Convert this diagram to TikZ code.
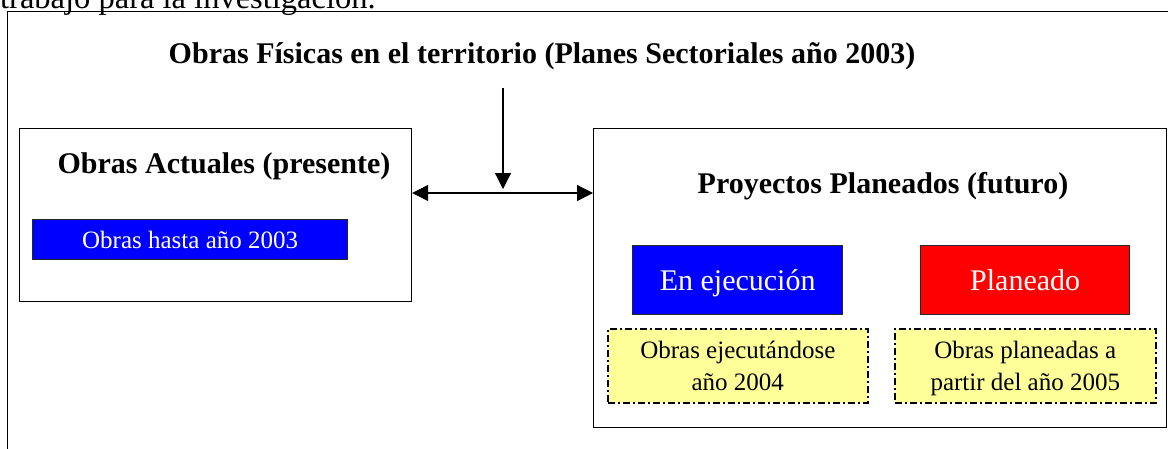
\documentclass[tikz,border=0pt]{standalone}
\usepackage{fontspec}
\setmainfont{Liberation Serif}
\usetikzlibrary{arrows.meta,calc}
\definecolor{lightyel}{RGB}{255,255,153}
\definecolor{pureblue}{RGB}{0,0,255}
\definecolor{purered}{RGB}{255,0,0}
\begin{document}
\begin{tikzpicture}[x=1pt,y=-1pt,
  boxframe/.style={draw=black, line width=1.2pt, anchor=north west, inner sep=0pt},
  titletext/.style={font=\fontsize{30}{36}\selectfont\bfseries, anchor=base, inner sep=0pt},
  colbox/.style={draw=black!85, line width=1.3pt, anchor=north west, inner sep=0pt, text=white, text depth=0pt},
  notebox/.style={draw=black, fill=lightyel, line width=1.6pt, dash pattern=on 7pt off 3pt on 2pt off 3pt,
     anchor=north west, inner sep=0pt, align=center, text depth=0pt,
     font=\fontsize{25}{32}\selectfont},
  arr/.style={line width=1.2pt, -{Triangle[length=16pt,width=16pt]}},
  arrboth/.style={line width=1.2pt, {Triangle[length=16pt,width=16pt]}-{Triangle[length=16pt,width=16pt]}}
]
\useasboundingbox (0,0) rectangle (1168,448);
% outer frame
\node[boxframe, minimum width=1175pt, minimum height=460pt] (outer) at (7,11) {};
% text above the frame (cropped at the top, as in the reference)
\node[font=\fontsize{32.5}{38}\selectfont, anchor=base west, inner sep=0pt] (intro) at (0,8) {trabajo para la investigación.};
% main title
\node[titletext] (title) at (542,63) {Obras Físicas en el territorio (Planes Sectoriales año 2003)};
% left box
\node[boxframe, minimum width=392pt, minimum height=173pt] (leftbox) at (19,128) {};
\node[titletext] (lefttitle) at (224,173) {Obras Actuales (presente)};
\node[colbox, fill=pureblue, minimum width=315pt, minimum height=40pt, font=\fontsize{25}{30}\selectfont] (hasta) at (32,219) {Obras hasta año 2003};
% right box
\node[boxframe, minimum width=573pt, minimum height=299pt] (rightbox) at (593,128) {};
\node[titletext] (righttitle) at (883,193) {Proyectos Planeados (futuro)};
\node[colbox, fill=pureblue, minimum width=210pt, minimum height=69pt, font=\fontsize{30}{36}\selectfont] (ejec) at (632,245) {En ejecución};
\node[colbox, fill=purered, minimum width=209pt, minimum height=69pt, font=\fontsize{30}{36}\selectfont] (plan) at (920,245) {Planeado};
\node[notebox, minimum width=260pt, minimum height=74pt] (note1) at (607,328) {Obras ejecutándose\\año 2004};
\node[notebox, minimum width=261pt, minimum height=74pt] (note2) at (894,328) {Obras planeadas a\\partir del año 2005};
% connectors
\coordinate (vtop) at (503,88);
\coordinate (mid) at (503,193);
\draw[arr, shorten >=4pt] (vtop) -- (mid);
\draw[arrboth] (leftbox.east |- mid) -- (rightbox.west |- mid);
\end{tikzpicture}
\end{document}
